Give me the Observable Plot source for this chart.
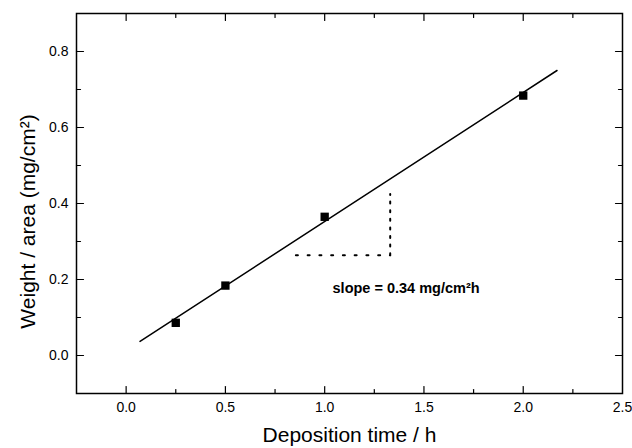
<!DOCTYPE html>
<html>
<head>
<meta charset="utf-8">
<script src="https://cdn.jsdelivr.net/npm/d3@7"></script>
<script src="https://cdn.jsdelivr.net/npm/@observablehq/plot@0.6"></script>
<style>
  html, body { margin: 0; padding: 0; background: #fff; }
</style>
</head>
<body>
<div id="chart"></div>
<script>
// Measured data
const depositionTime = [0.25, 0.5, 1.0, 2.0];
const weightPerArea = [0.086, 0.184, 0.365, 0.684];

// Linear fit line endpoints
const fitX = [0.07, 2.17];
const fitY = [0.037, 0.750];

// Slope triangle (dotted)
const triHorizX = [0.855, 1.33];
const triHorizY = [0.264, 0.264];
const triVertX = [1.33, 1.33];
const triVertY = [0.264, 0.425];

// Annotation
const slopeLabel = ["slope = 0.34 mg/cm²h"];
const slopeLabelX = [1.41];
const slopeLabelY = [0.177];

// Axes
const xDomain = [-0.25, 2.5];
const yDomain = [-0.1, 0.9];
const xMajor = [0, 0.5, 1.0, 1.5, 2.0];
const xMinor = [0.25, 0.75, 1.25, 1.75, 2.25];
const xTickLabels = [0, 0.5, 1.0, 1.5, 2.0, 2.5];
const yMajor = [0, 0.2, 0.4, 0.6, 0.8];
const yMinor = [0.1, 0.3, 0.5, 0.7];
const yTickLabels = [0, 0.2, 0.4, 0.6, 0.8];
const xTitle = ["Deposition time / h"];
const yTitle = ["Weight / area (mg/cm²)"];

const points = depositionTime.map((t, i) => ({t, w: weightPerArea[i]}));
const fit = fitX.map((x, i) => ({x, y: fitY[i]}));
const triH = triHorizX.map((x, i) => ({x, y: triHorizY[i]}));
const triV = triVertX.map((x, i) => ({x, y: triVertY[i]}));

const tickShape = {
  draw(context, l) {
    context.moveTo(0, 0);
    context.lineTo(0, -l);
  }
};
const fmt = d3.format(".1f");
const MAJ = 7, MIN = 4;

function ticksMarks(vals, len) {
  return [
    Plot.vector(vals, {x: d => d, frameAnchor: "bottom", length: len, rotate: 0, anchor: "start", shape: tickShape, stroke: "#000", strokeWidth: 1.2}),
    Plot.vector(vals, {x: d => d, frameAnchor: "top", length: len, rotate: 180, anchor: "start", shape: tickShape, stroke: "#000", strokeWidth: 1.2})
  ];
}
function yTicksMarks(vals, len) {
  return [
    Plot.vector(vals, {y: d => d, frameAnchor: "left", length: len, rotate: 90, anchor: "start", shape: tickShape, stroke: "#000", strokeWidth: 1.2}),
    Plot.vector(vals, {y: d => d, frameAnchor: "right", length: len, rotate: -90, anchor: "start", shape: tickShape, stroke: "#000", strokeWidth: 1.2})
  ];
}

const chart = Plot.plot({
  width: 632,
  height: 448,
  marginLeft: 76,
  marginRight: 10,
  marginTop: 13,
  marginBottom: 55,
  style: {fontFamily: "'Liberation Sans', Arial, sans-serif", fontSize: "14px", background: "#fff", color: "#000"},
  x: {domain: xDomain},
  y: {domain: yDomain},
  marks: [
    Plot.axisX(xTickLabels, {tickSize: 0, tickPadding: 9, tickFormat: fmt, label: null, fontSize: 14}),
    Plot.axisY(yTickLabels, {tickSize: 0, tickPadding: 8, tickFormat: fmt, label: null, fontSize: 14}),
    ...ticksMarks(xMajor, MAJ),
    ...ticksMarks(xMinor, MIN),
    ...yTicksMarks(yMajor, MAJ),
    ...yTicksMarks(yMinor, MIN),
    Plot.line(fit, {x: "x", y: "y", stroke: "#000", strokeWidth: 1.5}),
    Plot.line(triH, {x: "x", y: "y", stroke: "#000", strokeWidth: 2, strokeDasharray: "2,9.75"}),
    Plot.line(triV, {x: "x", y: "y", stroke: "#000", strokeWidth: 2, strokeDasharray: "2,6.6"}),
    Plot.dot(points, {x: "t", y: "w", symbol: "square", r: 4.7, fill: "#000", stroke: "none"}),
    Plot.text(slopeLabel, {x: slopeLabelX, y: slopeLabelY, text: d => d, fontSize: 14.5, fontWeight: "bold", fill: "#000"}),
    Plot.text(xTitle, {frameAnchor: "bottom", text: d => d, dy: 42, lineAnchor: "middle", textAnchor: "middle", fontSize: 21, fill: "#000"}),
    Plot.text(yTitle, {frameAnchor: "left", text: d => d, dx: -48, dy: 18, rotate: -90, lineAnchor: "middle", textAnchor: "middle", fontSize: 21, fill: "#000"}),
    Plot.frame({stroke: "#000", strokeWidth: 1.5})
  ]
});
document.getElementById("chart").appendChild(chart);
</script>
</body>
</html>
